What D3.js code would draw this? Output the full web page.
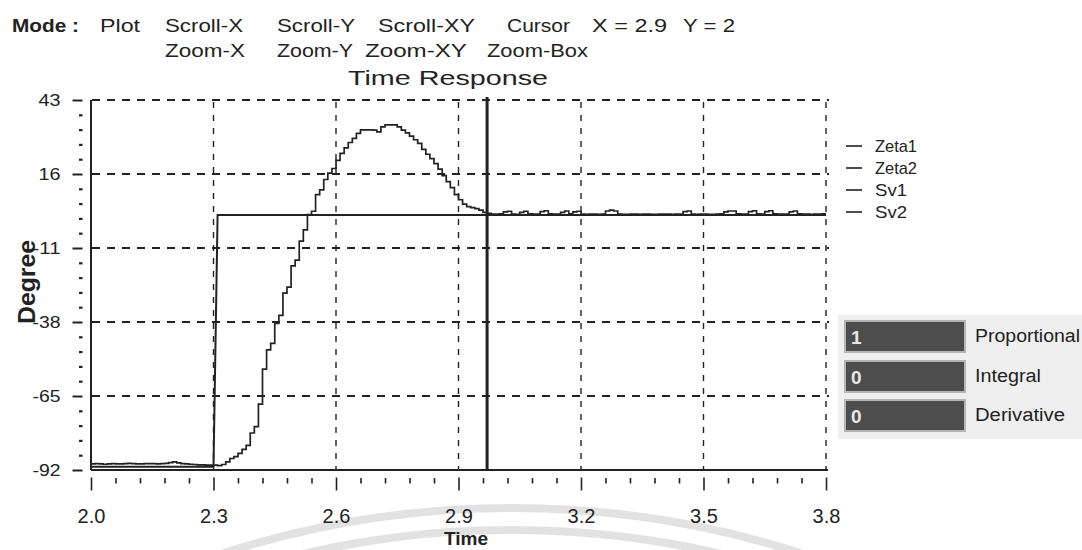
<!DOCTYPE html>
<html>
<head>
<meta charset="utf-8">
<script src="https://cdn.jsdelivr.net/npm/d3@7"></script>
<style>
  body { margin: 0; background: #fff; }
  svg { display: block; }
  text { font-family: "Liberation Sans", Arial, sans-serif; fill: #222; }
</style>
</head>
<body>
<svg id="chart" width="1082" height="550"></svg>
<script>
// ---- data ---------------------------------------------------------------
// Measured angle (Zeta), sampled every 10 ms from t = 2.00 s
const sampleStart = 2.0;
const sampleStep = 0.01;
const zetaValues = [
  -89.8, -89.7, -89.8, -89.9, -89.8, -89.7, -89.8, -89.8, -89.7, -89.6,
  -89.7, -89.8, -89.8, -89.7, -89.7, -89.7, -89.8, -89.7, -89.6, -89.3,
  -89.0, -89.4, -89.7, -89.8, -89.9, -90.0, -90.1, -90.1, -90.2, -90.2,
  -90.2, -90.4, -90.0, -89.0, -87.8, -87.1, -85.9, -84.5, -83.0, -78.5,
  -76.2, -68.0, -55.2, -48.2, -45.8, -38.5, -35.6, -27.5, -25.3, -17.5,
  -15.4, -8.5, -4.4, 1.2, 2.4, 8.5, 10.2, 14.0, 16.3, 18.0,
  21.0, 23.5, 25.5, 27.5, 29.0, 30.8, 32.1, 32.1, 32.1, 32.0,
  31.4, 33.2, 33.9, 33.9, 33.9, 33.2, 32.0, 31.0, 29.8, 28.5,
  27.2, 25.0, 23.2, 21.6, 19.8, 17.8, 15.4, 13.2, 11.0, 8.5,
  6.6, 5.0, 4.1, 3.7, 3.4, 2.8, 2.0, 1.6, 1.4, 1.4,
  1.5, 2.2, 2.4, 1.4, 1.3, 2.0, 2.4, 1.5, 1.4, 1.4,
  2.3, 2.6, 1.5, 1.4, 1.4, 2.0, 2.5, 1.5, 2.2, 2.4,
  1.4, 1.3, 1.4, 1.4, 1.3, 1.4, 2.5, 2.8, 2.5, 1.4,
  1.3, 1.3, 1.4, 1.4, 1.3, 1.4, 1.4, 1.3, 1.3, 1.4,
  1.4, 1.4, 1.3, 1.4, 1.4, 2.3, 2.5, 1.4, 1.3, 1.4,
  1.4, 1.3, 1.3, 1.4, 1.5, 2.2, 2.5, 2.5, 1.5, 1.4,
  1.4, 2.3, 2.6, 1.5, 1.4, 2.3, 2.6, 1.5, 1.4, 1.4,
  1.4, 2.2, 2.5, 1.5, 1.4, 1.4, 1.3, 1.4, 1.4, 1.5,
  1.5
];

// Set value (Sv) step
const svTimes  = [2.0, 2.30, 2.31, 3.8];
const svValues = [-90.8, -90.8, 1.0, 1.0];

const xTicks = [2.0, 2.3, 2.6, 2.9, 3.2, 3.5, 3.8];
const xTickLabels = ["2.0", "2.3", "2.6", "2.9", "3.2", "3.5", "3.8"];
const yTicks = [43, 16, -11, -38, -65, -92];
const yTickLabels = ["43", "16", "-11", "-38", "-65", "-92"];

const legendNames = ["Zeta1", "Zeta2", "Sv1", "Sv2"];
const gainNames = ["Proportional", "Integral", "Derivative"];
const gainValues = ["1", "0", "0"];

const cursorTime = 2.97;
const cursorReadout = { x: "2.9", y: "2" };

const menuRow1 = ["Mode :", "Plot", "Scroll-X", "Scroll-Y", "Scroll-XY", "Cursor",
                  "X = " + cursorReadout.x, "Y = " + cursorReadout.y];
const menuRow2 = ["Zoom-X", "Zoom-Y", "Zoom-XY", "Zoom-Box"];
const chartTitle = "Time Response";
const xTitle = "Time";
const yTitle = "Degree";

// ---- layout -------------------------------------------------------------
const svg = d3.select("#chart");
const ink = "#222";
const plotL = 91, plotR = 826, plotT = 100, plotB = 470;

const x = d3.scaleLinear().domain([2.0, 3.8]).range([plotL, plotR]);
const y = d3.scaleLinear().domain([-92, 43]).range([plotB, plotT]);

// faint seal printed behind the bottom caption
const seal = svg.append("g").attr("fill", "none").attr("stroke", "#e2e2e2");
seal.append("circle").attr("cx", 512).attr("cy", 1450).attr("r", 942).attr("stroke-width", 8);
seal.append("circle").attr("cx", 512).attr("cy", 1450).attr("r", 920).attr("stroke-width", 8);

// stretch helper for the bitmap-style UI font
function fit(sel, w) {
  return sel.attr("textLength", w).attr("lengthAdjust", "spacingAndGlyphs");
}

// ---- header menu --------------------------------------------------------
const row1X = [12, 100, 165, 277, 378, 507, 592, 683];
const row1W = [67, 40, 78, 78, 97, 63, 75, 52];
menuRow1.forEach((t, i) => {
  fit(svg.append("text").attr("x", row1X[i]).attr("y", 32)
    .attr("font-size", 18).attr("font-weight", i === 0 ? "bold" : "normal").text(t), row1W[i]);
});
const row2X = [165, 277, 365, 487];
const row2W = [80, 76, 102, 101];
menuRow2.forEach((t, i) => {
  fit(svg.append("text").attr("x", row2X[i]).attr("y", 57).attr("font-size", 18).text(t), row2W[i]);
});
fit(svg.append("text").attr("x", 348).attr("y", 85).attr("font-size", 21).text(chartTitle), 200);

// ---- grid ---------------------------------------------------------------
const grid = svg.append("g").attr("stroke", ink);
grid.selectAll("line.h").data(yTicks.filter(v => v !== -92)).join("line")
  .attr("class", "h")
  .attr("x1", plotL + 1).attr("x2", plotR + 3)
  .attr("y1", d => y(d)).attr("y2", d => y(d))
  .attr("stroke-width", 1.8).attr("stroke-dasharray", "8,7");
grid.selectAll("line.v").data(xTicks.filter(v => v !== 2.0)).join("line")
  .attr("class", "v")
  .attr("x1", d => x(d)).attr("x2", d => x(d))
  .attr("y1", plotT + 2).attr("y2", plotB)
  .attr("stroke-width", 1.4).attr("stroke-dasharray", "6,7");

// ---- axes ---------------------------------------------------------------
const xMinor = d3.range(0, 31).map(i => 2.0 + i * 0.06).filter((v, i) => i % 5 !== 0);
const yMinor = d3.range(0, 26).map(i => -92 + i * 5.4).filter((v, i) => i % 5 !== 0);

const xAxis = svg.append("g").attr("transform", `translate(0,${plotB + 7.5})`)
  .call(d3.axisBottom(x).tickValues(xTicks).tickFormat((d, i) => xTickLabels[i])
    .tickSize(13).tickSizeOuter(0));
xAxis.select(".domain").remove();
xAxis.selectAll("line").attr("stroke", ink).attr("stroke-width", 1.6);
xAxis.selectAll("text").attr("y", 45).attr("dy", null)
  .attr("font-size", 20).attr("fill", ink);

const xAxisMinor = svg.append("g").attr("transform", `translate(0,${plotB + 8})`)
  .call(d3.axisBottom(x).tickValues(xMinor).tickFormat("").tickSize(5.5).tickSizeOuter(0));
xAxisMinor.select(".domain").remove();
xAxisMinor.selectAll("line").attr("stroke", ink).attr("stroke-width", 1.6);

const yAxis = svg.append("g").attr("transform", `translate(82.5,0)`)
  .call(d3.axisLeft(y).tickValues(yTicks).tickFormat((d, i) => yTickLabels[i])
    .tickSize(10).tickPadding(12).tickSizeOuter(0));
yAxis.select(".domain").remove();
yAxis.selectAll("line").attr("stroke", ink).attr("stroke-width", 2);
yAxis.selectAll("text").attr("font-size", 17).attr("fill", ink)
  .attr("font-family", "'Liberation Sans', Arial, sans-serif")
  .each(function (d, i) { fit(d3.select(this), yTickLabels[i].length > 2 ? 28 : 22); });

const yAxisMinor = svg.append("g").attr("transform", `translate(82.5,0)`)
  .call(d3.axisLeft(y).tickValues(yMinor).tickFormat("").tickSize(3.5).tickSizeOuter(0));
yAxisMinor.select(".domain").remove();
yAxisMinor.selectAll("line").attr("stroke", ink).attr("stroke-width", 2.2);

// solid left and bottom frame
svg.append("line").attr("x1", plotL).attr("x2", plotL).attr("y1", plotT).attr("y2", plotB)
  .attr("stroke", ink).attr("stroke-width", 2);
svg.append("line").attr("x1", plotL).attr("x2", plotR + 2).attr("y1", plotB).attr("y2", plotB)
  .attr("stroke", ink).attr("stroke-width", 2);

// ---- series -------------------------------------------------------------
const zetaLine = d3.line()
  .x((d, i) => x(sampleStart + i * sampleStep))
  .y(d => y(d))
  .curve(d3.curveStepAfter);
svg.append("path").datum(zetaValues).attr("d", zetaLine)
  .attr("fill", "none").attr("stroke", ink).attr("stroke-width", 1.7);

const svLine = d3.line().x((d, i) => x(svTimes[i])).y(d => y(d));
svg.append("path").datum(svValues).attr("d", svLine)
  .attr("fill", "none").attr("stroke", ink).attr("stroke-width", 2);

// cursor
svg.append("line").attr("x1", x(cursorTime)).attr("x2", x(cursorTime))
  .attr("y1", plotT - 3).attr("y2", plotB)
  .attr("stroke", ink).attr("stroke-width", 3);

// ---- axis titles --------------------------------------------------------
fit(svg.append("text").attr("transform", "translate(35,282) rotate(-90)")
  .attr("text-anchor", "middle").attr("font-size", 23).attr("font-weight", "bold")
  .text(yTitle), 84);
svg.append("text").attr("x", 466).attr("y", 545).attr("text-anchor", "middle")
  .attr("font-size", 19).attr("font-weight", "bold").text(xTitle);

// ---- legend -------------------------------------------------------------
const legendRows = [146, 168, 190, 212];
const legend = svg.append("g");
legendNames.forEach((name, i) => {
  legend.append("line").attr("x1", 846).attr("x2", 862)
    .attr("y1", legendRows[i]).attr("y2", legendRows[i])
    .attr("stroke", ink).attr("stroke-width", 1.6);
  fit(legend.append("text").attr("x", 875).attr("y", legendRows[i] + 6)
    .attr("font-size", 17).text(name), name.length > 3 ? 42 : 32);
});

// ---- PID gain panel -----------------------------------------------------
const panel = svg.append("g");
panel.append("rect").attr("x", 838).attr("y", 315).attr("width", 244).attr("height", 124)
  .attr("fill", "#efefef");
const boxTops = [321, 361, 400];
const labelW = [105, 66, 90];
gainNames.forEach((name, i) => {
  panel.append("rect").attr("x", 845).attr("y", boxTops[i]).attr("width", 120).attr("height", 31)
    .attr("fill", "#4d4d4d").attr("stroke", "#b5b5b5").attr("stroke-width", 2);
  panel.append("text").attr("x", 851).attr("y", boxTops[i] + 23)
    .attr("font-size", 19).attr("font-weight", "bold").style("fill", "#e8e8e8")
    .text(gainValues[i]);
  fit(panel.append("text").attr("x", 975).attr("y", boxTops[i] + 21)
    .attr("font-size", 18).text(name), labelW[i]);
});
</script>
</body>
</html>
